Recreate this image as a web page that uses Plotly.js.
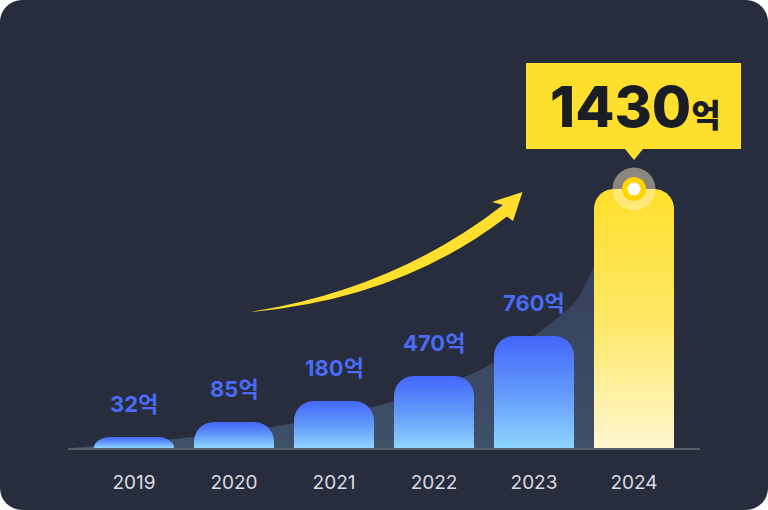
<!DOCTYPE html>
<html><head><meta charset="utf-8">
<script src="https://cdn.plot.ly/plotly-3.0.1.min.js"></script>
<style>
html,body{margin:0;padding:0;background:#ffffff;}
#card{width:768px;height:510px;border-radius:22px;overflow:hidden;background:#282d3e;}
#chart{width:768px;height:510px;}
</style></head><body>
<div id="card"><div id="chart"></div></div>
<script>
// ---- data ----
const years = ['2019', '2020', '2021', '2022', '2023', '2024'];
const values = [32, 85, 180, 470, 760, 1430];
const unit = '억';
// displayed bar heights (illustrative scale)
const barHeights = [11, 26, 47, 72, 112, 259];
// background trend area
const trendX = [-0.62, 0.5, 1.5, 2.5, 3.5, 4.4, 4.6, 5.0];
const trendY = [0, 10, 23, 44, 80, 145, 181, 250];

// ---- styling ----
const FONT = 'Inter, "Noto Sans CJK KR", "Noto Sans", sans-serif';
const M = {l: 68, r: 68, t: 0, b: 62};
const W = 768, H = 510;
const PW = W - M.l - M.r, PH = H - M.t - M.b;
const px2paper = (px, py) => [(px - M.l) / PW, (H - M.b - py) / PH];

function barShape(i, h) {
  const hw = 0.4;
  const ryPx = Math.min(20, h), rxPx = Math.min(20, 1.5 * h);
  const rx = rxPx / 100, ry = ryPx;
  const xs = [i - hw], ys = [0];
  const n = 14;
  for (let k = 0; k <= n; k++) {
    const th = Math.PI - (Math.PI / 2) * k / n;
    xs.push(i - hw + rx + rx * Math.cos(th));
    ys.push(h - ry + ry * Math.sin(th));
  }
  for (let k = 0; k <= n; k++) {
    const th = Math.PI / 2 - (Math.PI / 2) * k / n;
    xs.push(i + hw - rx + rx * Math.cos(th));
    ys.push(h - ry + ry * Math.sin(th));
  }
  xs.push(i + hw); ys.push(0);
  xs.push(i - hw); ys.push(0);
  return {xs, ys};
}

const traces = [];
traces.push({
  type: 'scatter', mode: 'lines', x: trendX, y: trendY,
  line: {width: 0, shape: 'spline', smoothing: 0.8},
  fill: 'tozeroy',
  fillgradient: {type: 'vertical', colorscale: [[0, '#3f5069'], [1, '#323b58']]},
  hoverinfo: 'skip'
});
const last = years.length - 1;
barHeights.forEach((h, i) => {
  const s = barShape(i, h);
  const isLast = i === last;
  traces.push({
    type: 'scatter', mode: 'lines', x: s.xs, y: s.ys,
    line: {width: 0, simplify: false}, fill: 'toself',
    fillgradient: {type: 'vertical', colorscale: isLast
      ? [[0, '#fff7d0'], [0.5, '#fee765'], [1, '#ffdf2c']]
      : [[0, '#8ed5ff'], [0.5, '#6199fb'], [1, '#4466fa']]},
    hoverinfo: 'skip'
  });
});
// highlight marker on last bar
[[43, 'rgba(255,246,205,0.45)'], [24, '#ffd400'], [13, '#ffffff']].forEach(([sz, col]) => {
  traces.push({
    type: 'scatter', mode: 'markers',
    x: [last], y: [barHeights[last]],
    marker: {size: sz, color: col, opacity: 1, line: {width: 0}},
    cliponaxis: false, hoverinfo: 'skip'
  });
});

const annotations = [];
values.forEach((v, i) => {
  if (i === last) return;
  annotations.push({
    x: i, y: barHeights[i] + 33, xref: 'x', yref: 'y',
    text: v + unit, showarrow: false, yanchor: 'middle',
    font: {family: FONT, size: 22, color: '#4a6bf5', weight: 700}
  });
});
const cText = px2paper(635, 106);
annotations.push({
  x: cText[0], y: cText[1], xref: 'paper', yref: 'paper',
  text: values[last] + '<span style="font-size:32px">' + unit + '</span>',
  showarrow: false, xanchor: 'center', yanchor: 'middle',
  font: {family: FONT, size: 57, color: '#1b1d25', weight: 800}
});

function pathFrom(cmds) {
  return cmds.map(c => {
    if (c === 'Z') return 'Z';
    const [op, ...pts] = c;
    const out = [];
    for (let k = 0; k < pts.length; k += 2) {
      const p = px2paper(pts[k], pts[k + 1]);
      out.push(p[0].toFixed(5) + ',' + p[1].toFixed(5));
    }
    return op + out.join(' ');
  }).join(' ');
}

const arrowPath = pathFrom([
  ['M', 250, 312], ['Q', 395, 289, 503, 205], ['L', 492, 202], ['L', 522.5, 192],
  ['L', 513, 221], ['L', 507, 216.5], ['Q', 400, 299, 250, 312], 'Z'
]);
const calloutPath = pathFrom([
  ['M', 526, 63], ['L', 741, 63], ['L', 741, 149], ['L', 643, 149], ['L', 634, 160],
  ['L', 625, 149], ['L', 526, 149], 'Z'
]);

const shapes = [
  {type: 'path', xref: 'paper', yref: 'paper', path: arrowPath, fillcolor: '#ffdf2d', line: {width: 0}},
  {type: 'path', xref: 'paper', yref: 'paper', path: calloutPath, fillcolor: '#ffdf2d', line: {width: 0}}
];

const layout = {
  width: W, height: H, margin: M,
  paper_bgcolor: 'rgba(0,0,0,0)', plot_bgcolor: 'rgba(0,0,0,0)',
  showlegend: false,
  xaxis: {
    range: [-0.66, 5.66], tickvals: years.map((_, i) => i), ticktext: years,
    showgrid: false, zeroline: false, showline: true, linecolor: '#585d69', linewidth: 2,
    ticks: '', ticklabelstandoff: 16,
    tickfont: {family: FONT, size: 19, color: '#dadce2'}, fixedrange: true
  },
  yaxis: {range: [0, PH], visible: false, fixedrange: true},
  annotations, shapes
};
Plotly.newPlot('chart', traces, layout, {displayModeBar: false, staticPlot: true});
</script>
</body></html>
